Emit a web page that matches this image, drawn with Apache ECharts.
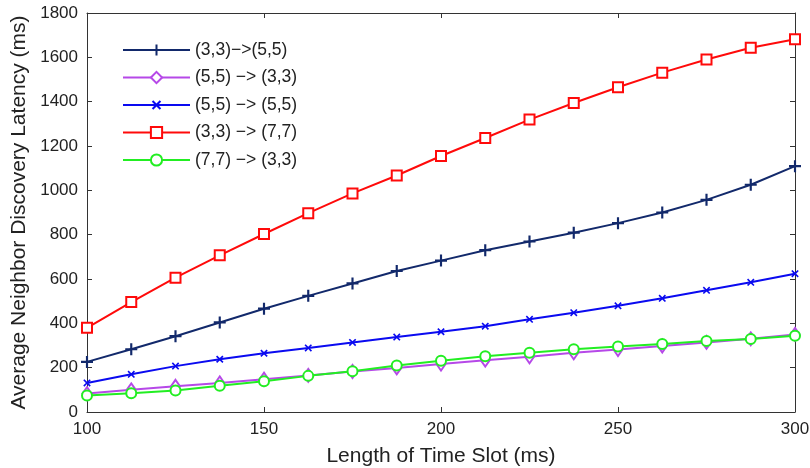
<!DOCTYPE html>
<html>
<head>
<meta charset="utf-8">
<script src="https://cdn.jsdelivr.net/npm/echarts@6/dist/echarts.min.js"></script>
<style>html,body{margin:0;padding:0;background:#fff}#c{width:810px;height:468px}</style>
</head>
<body>
<div id="c"></div>
<script>
var slots = [100,112.5,125,137.5,150,162.5,175,187.5,200,212.5,225,237.5,250,262.5,275,287.5,300];
var s33to55 = [226,283,342,404,466,524,580,636,683,730,769,809,852,900,957,1025,1109];
var s55to33 = [83,100,116,131,148,165,183,199,216,234,249,267,282,298,314,330,350];
var s55to55 = [131,170,207,238,265,289,314,338,362,387,418,448,479,513,549,585,624];
var s33to77 = [380,496,606,707,803,897,986,1067,1155,1236,1319,1394,1465,1531,1590,1643,1682];
var s77to33 = [74,85,97,118,139,163,184,210,231,252,267,283,296,307,320,329,344];
var names = ['(3,3)\u2212>(5,5)','(5,5) \u2212> (3,3)','(5,5) \u2212> (5,5)','(3,3) \u2212> (7,7)','(7,7) \u2212> (3,3)'];
var xTicks = [100,150,200,250,300];
var yTicks = [0,200,400,600,800,1000,1200,1400,1600,1800];

function pairs(arr){ return slots.map(function(x,i){ return [x, arr[i]]; }); }
var plus = 'path://M4.1,0 L5.9,0 L5.9,4.1 L10,4.1 L10,5.9 L5.9,5.9 L5.9,10 L4.1,10 L4.1,5.9 L0,5.9 L0,4.1 L4.1,4.1 Z';

var chart = echarts.init(document.getElementById('c'));
var font = 'Liberation Sans, Arial, sans-serif';
var lineSt = {color:'#333',width:1};
var tick = {show:true,inside:true,length:5,lineStyle:{color:'#333'}};
chart.setOption({
  animation:false,
  textStyle:{fontFamily:font},
  grid:{left:87,right:15,top:13,bottom:56,containLabel:false,outerBoundsMode:'none'},
  legend:{
    orient:'vertical', left:117, top:36, itemWidth:67, itemHeight:14, itemGap:9.5,
    textStyle:{fontSize:17.5,lineHeight:18,color:'#222',fontFamily:font},
    data:names
  },
  xAxis:[{
    type:'value', min:xTicks[0], max:xTicks[xTicks.length-1], interval:50,
    name:'Length of Time Slot (ms)', nameLocation:'middle', nameGap:34,
    nameTextStyle:{fontSize:21,color:'#222'},
    axisLine:{show:true,onZero:false,lineStyle:lineSt}, axisTick:tick,
    axisLabel:{fontSize:17,color:'#222',margin:9,formatter:function(v){return String(v);}},
    splitLine:{show:false}
  },{
    type:'value', position:'top', min:xTicks[0], max:xTicks[xTicks.length-1], interval:50,
    axisLine:{show:true,onZero:false,lineStyle:lineSt}, axisTick:tick,
    axisLabel:{show:false}, splitLine:{show:false}
  }],
  yAxis:[{
    type:'value', min:yTicks[0], max:yTicks[yTicks.length-1], interval:200,
    name:'Average Neighbor Discovery Latency (ms)', nameLocation:'middle', nameGap:57,
    nameTextStyle:{fontSize:21,color:'#222'},
    axisLine:{show:true,onZero:false,lineStyle:lineSt}, axisTick:tick,
    axisLabel:{fontSize:17,color:'#222',margin:9,formatter:function(v){return String(v);}},
    splitLine:{show:false}
  },{
    type:'value', position:'right', min:yTicks[0], max:yTicks[yTicks.length-1], interval:200,
    axisLine:{show:true,onZero:false,lineStyle:lineSt}, axisTick:tick,
    axisLabel:{show:false}, splitLine:{show:false}
  }],
  series:[
    {name:names[0], type:'line', data:pairs(s33to55), symbol:plus, symbolSize:12, showAllSymbol:true,
     lineStyle:{color:'#12296b',width:2}, itemStyle:{color:'#12296b'}},
    {name:names[1], type:'line', data:pairs(s55to33), symbol:'emptyDiamond', symbolSize:[9,13], showAllSymbol:true,
     lineStyle:{color:'#b648e8',width:2}, itemStyle:{color:'#b648e8',borderWidth:1.5}},
    {name:names[2], type:'line', data:pairs(s55to55), symbol:plus, symbolRotate:45, symbolSize:9, showAllSymbol:true,
     lineStyle:{color:'#0a0af0',width:2}, itemStyle:{color:'#0a0af0'}},
    {name:names[3], type:'line', data:pairs(s33to77), symbol:'emptyRect', symbolSize:10, showAllSymbol:true,
     lineStyle:{color:'#ff0a0a',width:2}, itemStyle:{color:'#ff0a0a',borderWidth:2}},
    {name:names[4], type:'line', data:pairs(s77to33), symbol:'emptyCircle', symbolSize:10, showAllSymbol:true,
     lineStyle:{color:'#22ee22',width:2}, itemStyle:{color:'#22ee22',borderWidth:2}}
  ]
});
</script>
</body>
</html>
